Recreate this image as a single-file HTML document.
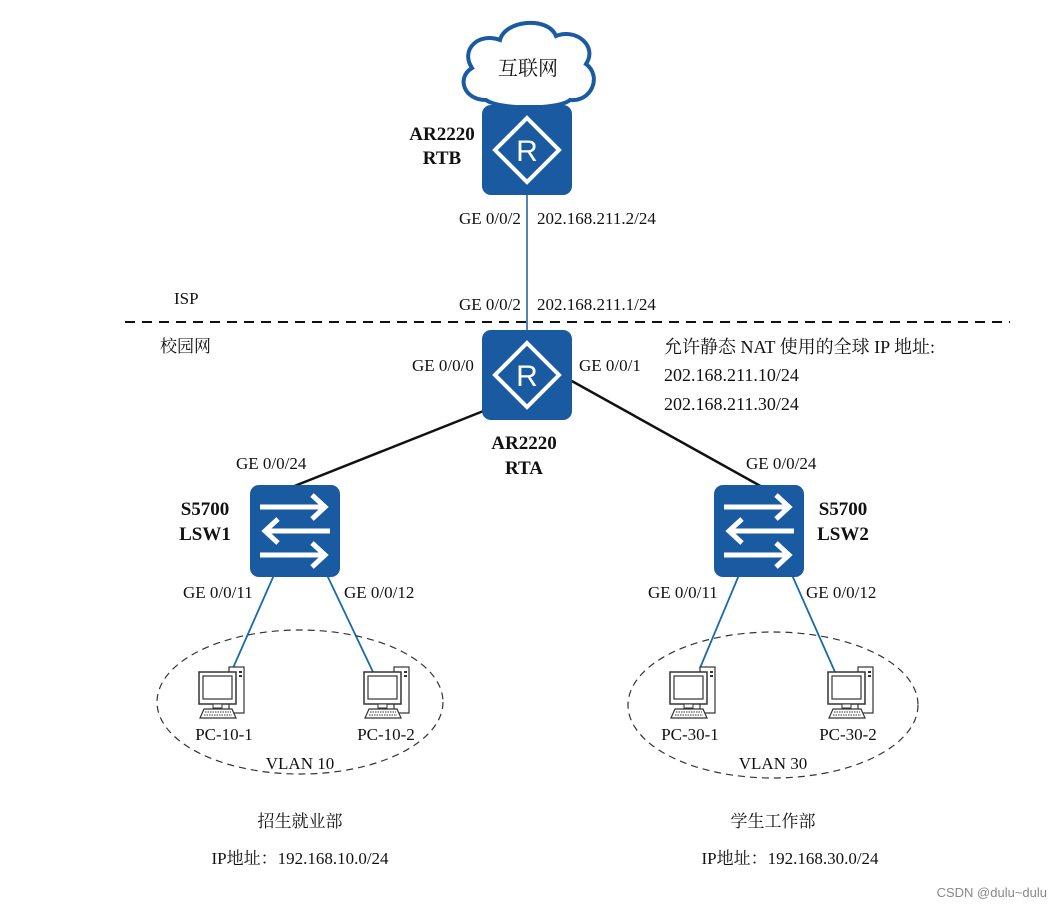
<!DOCTYPE html>
<html><head><meta charset="utf-8"><style>
html,body{margin:0;padding:0;background:#fff;}
svg text{font-family:"Liberation Serif","Noto Serif CJK SC",serif;fill:#111;}
.b{font-weight:bold;font-size:19px;}
.t{font-size:17px;}
</style></head><body>
<svg width="1062" height="909" viewBox="0 0 1062 909" xmlns="http://www.w3.org/2000/svg">
<defs>
<g id="pc">
  <rect x="30" y="0" width="15" height="46" fill="#fff" stroke="#333" stroke-width="1.2"/>
  <rect x="40" y="4" width="3" height="2" fill="#333"/><rect x="40" y="8" width="3" height="2" fill="#333"/>
  <rect x="0" y="5" width="37" height="32" fill="#fff" stroke="#333" stroke-width="1.5"/>
  <rect x="4" y="9" width="29" height="23" fill="#fff" stroke="#333" stroke-width="1.2"/>
  <rect x="14" y="37" width="9" height="4" fill="#fff" stroke="#333"/>
  <path d="M5 42 L33 42 L37 51 L1 51 Z" fill="#fff" stroke="#333" stroke-width="1.2"/>
  <path d="M6 45 H32 M5 48 H33" stroke="#333" stroke-dasharray="1.5 1"/>
</g>
<g id="router">
  <rect x="0" y="0" width="90" height="90" rx="9" fill="#1a5aa0"/>
  <path d="M45 13 L77 45 L45 77 L13 45 Z" fill="none" stroke="#fff" stroke-width="4"/>
  <text x="45" y="56" text-anchor="middle" style="font-family:'Liberation Sans',sans-serif;font-size:30px;fill:#fff">R</text>
</g>
<g id="sw">
  <rect x="0" y="0" width="90" height="92" rx="9" fill="#1a5aa0"/>
  <g stroke="#fff" stroke-width="5" fill="none">
    <path d="M10 22 H75 M62 10 L75 22 L62 34"/>
    <path d="M80 46 H15 M28 34 L15 46 L28 58"/>
    <path d="M10 70 H75 M62 58 L75 70 L62 82"/>
  </g>
</g>
</defs>
<!-- cloud -->
<path d="M486 100 C464 100 456 78 472 68 C460 50 478 32 500 40 C505 20 548 16 556 36 C576 28 598 46 586 64 C602 76 592 102 570 100 C558 110 500 110 486 100 Z" fill="#fff" stroke="#1a5aa0" stroke-width="4"/>
<text x="528" y="75" text-anchor="middle" class="t" style="font-size:20px">互联网</text>
<!-- lines -->
<line x1="527" y1="195" x2="527" y2="330" stroke="#1a5aa0" stroke-width="1.5"/>
<line x1="125" y1="322" x2="1010" y2="322" stroke="#111" stroke-width="2" stroke-dasharray="10 7"/>
<line x1="486" y1="410" x2="292" y2="487" stroke="#111" stroke-width="2.5"/>
<line x1="570" y1="380" x2="764" y2="488" stroke="#111" stroke-width="2.5"/>
<line x1="274" y1="575" x2="233" y2="668" stroke="#1a6aaa" stroke-width="1.8"/>
<line x1="327" y1="575" x2="373" y2="672" stroke="#1a6aaa" stroke-width="1.8"/>
<line x1="739" y1="575" x2="700" y2="668" stroke="#1a6aaa" stroke-width="1.8"/>
<line x1="792" y1="575" x2="835" y2="672" stroke="#1a6aaa" stroke-width="1.8"/>
<!-- devices -->
<use href="#router" x="482" y="105"/>
<use href="#router" x="482" y="330"/>
<use href="#sw" x="250" y="485"/>
<use href="#sw" x="714" y="485"/>
<ellipse cx="300" cy="702" rx="143" ry="72" fill="none" stroke="#333" stroke-width="1.2" stroke-dasharray="7 5"/>
<ellipse cx="773" cy="705" rx="145" ry="73" fill="none" stroke="#333" stroke-width="1.2" stroke-dasharray="7 5"/>
<use href="#pc" x="199" y="667"/>
<use href="#pc" x="364" y="667"/>
<use href="#pc" x="670" y="667"/>
<use href="#pc" x="828" y="667"/>
<!-- labels -->
<text x="442" y="140" text-anchor="middle" class="b">AR2220</text>
<text x="442" y="164" text-anchor="middle" class="b">RTB</text>
<text x="459" y="224" class="t">GE 0/0/2</text>
<text x="537" y="224" class="t">202.168.211.2/24</text>
<text x="174" y="304" class="t">ISP</text>
<text x="459" y="310" class="t">GE 0/0/2</text>
<text x="537" y="310" class="t">202.168.211.1/24</text>
<text x="160" y="352" class="t">校园网</text>
<text x="412" y="371" class="t">GE 0/0/0</text>
<text x="579" y="371" class="t">GE 0/0/1</text>
<text x="664" y="353" class="t" style="font-size:18px">允许静态 NAT 使用的全球 IP 地址:</text>
<text x="664" y="381" class="t" style="font-size:18px">202.168.211.10/24</text>
<text x="664" y="410" class="t" style="font-size:18px">202.168.211.30/24</text>
<text x="524" y="449" text-anchor="middle" class="b">AR2220</text>
<text x="524" y="474" text-anchor="middle" class="b">RTA</text>
<text x="236" y="469" class="t">GE 0/0/24</text>
<text x="746" y="469" class="t">GE 0/0/24</text>
<text x="205" y="515" text-anchor="middle" class="b">S5700</text>
<text x="205" y="540" text-anchor="middle" class="b">LSW1</text>
<text x="843" y="515" text-anchor="middle" class="b">S5700</text>
<text x="843" y="540" text-anchor="middle" class="b">LSW2</text>
<text x="183" y="598" class="t">GE 0/0/11</text>
<text x="344" y="598" class="t">GE 0/0/12</text>
<text x="648" y="598" class="t">GE 0/0/11</text>
<text x="806" y="598" class="t">GE 0/0/12</text>
<text x="224" y="740" text-anchor="middle" class="t">PC-10-1</text>
<text x="386" y="740" text-anchor="middle" class="t">PC-10-2</text>
<text x="690" y="740" text-anchor="middle" class="t">PC-30-1</text>
<text x="848" y="740" text-anchor="middle" class="t">PC-30-2</text>
<text x="300" y="769" text-anchor="middle" class="t">VLAN 10</text>
<text x="773" y="769" text-anchor="middle" class="t">VLAN 30</text>
<text x="300" y="827" text-anchor="middle" class="t">招生就业部</text>
<text x="773" y="827" text-anchor="middle" class="t">学生工作部</text>
<text x="300" y="864" text-anchor="middle" class="t">IP地址：192.168.10.0/24</text>
<text x="790" y="864" text-anchor="middle" class="t">IP地址：192.168.30.0/24</text>
<text x="1047" y="897" text-anchor="end" style="font-family:'Liberation Sans','Noto Sans CJK SC',sans-serif;font-size:13px;fill:#888">CSDN @dulu~dulu</text>
</svg>
</body></html>
